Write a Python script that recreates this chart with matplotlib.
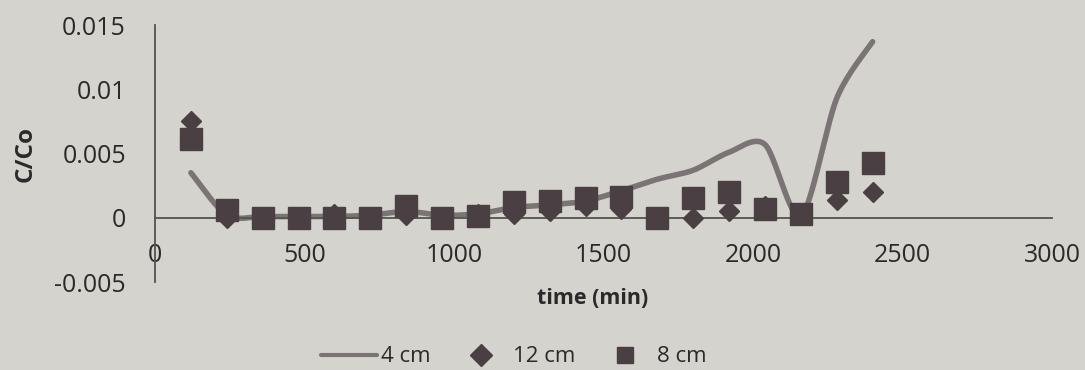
import numpy as np
import matplotlib
matplotlib.use("Agg")
import matplotlib.pyplot as plt

# sampling times (min)
times = [120, 240, 360, 480, 600, 720, 840, 960, 1080, 1200,
         1320, 1440, 1560, 1680, 1800, 1920, 2040, 2160, 2280, 2400]

# C/Co
c_4cm = [0.0035, 0.0002, 0.0001, 0.0001, 0.0001, 0.0002, 0.0005, 0.0002, 0.0003, 0.0008,
         0.0010, 0.0013, 0.0021, 0.0030, 0.0037, 0.0051, 0.0057, 0.0001, 0.0093, 0.0137]
c_12cm = [0.0075, 0.0000, 0.0000, 0.0000, 0.0003, 0.0000, 0.0002, 0.0000, 0.0003, 0.0003,
          0.0005, 0.0009, 0.0007, 0.0000, 0.0000, 0.0005, 0.0009, 0.0002, 0.0014, 0.0020]
c_8cm = [0.0061, 0.0006, 0.0000, 0.0000, 0.0000, 0.0000, 0.0009, 0.0000, 0.0001, 0.0012,
         0.0013, 0.0015, 0.0016, 0.0000, 0.0015, 0.0020, 0.0007, 0.0003, 0.0028, 0.0043]

x_ticks = [0, 500, 1000, 1500, 2000, 2500, 3000]
y_ticks = [-0.005, 0, 0.005, 0.01, 0.015]
y_tick_labels = ["-0.005", "0", "0.005", "0.01", "0.015"]


def smooth(x, y, n=30, f=1 / 6):
    # excel-like smoothed line (bezier segments, catmull-rom style control points)
    x = np.asarray(x, float)
    y = np.asarray(y, float)
    px = np.concatenate([[x[0]], x, [x[-1]]])
    py = np.concatenate([[y[0]], y, [y[-1]]])
    xs, ys = [], []
    t = np.linspace(0, 1, n)
    for i in range(1, len(px) - 2):
        p0 = np.array([px[i], py[i]])
        p3 = np.array([px[i + 1], py[i + 1]])
        c1 = p0 + (p3 - np.array([px[i - 1], py[i - 1]])) * f
        c2 = p3 - (np.array([px[i + 2], py[i + 2]]) - p0) * f
        pts = ((1 - t) ** 3)[:, None] * p0 + (3 * (1 - t) ** 2 * t)[:, None] * c1 \
            + (3 * (1 - t) * t ** 2)[:, None] * c2 + (t ** 3)[:, None] * p3
        xs.extend(pts[:, 0])
        ys.extend(pts[:, 1])
    return xs, ys


bg = "#d5d3ce"
ink = "#2b2a2a"
mark = "#4a4043"

plt.rcParams["font.family"] = ["Open Sans", "DejaVu Sans"]

fig = plt.figure(figsize=(10.85, 3.70), dpi=100, facecolor=bg)
ax = fig.add_axes([0.1429, 0.2378, 0.8267, 0.6946], facecolor=bg)

sx, sy = smooth(times, c_4cm, f=1 / 7)
ax.plot(sx, sy, color="#7a7474", lw=4, solid_capstyle="round", label="4 cm", zorder=2)
ax.plot(times, c_12cm, ls="none", marker="D", ms=10, color=mark, label="12 cm", zorder=3)
ax.plot(times, c_8cm, ls="none", marker="s", ms=16, color=mark, label="8 cm", zorder=4)

ax.set_xlim(0, 3000)
ax.set_ylim(-0.005, 0.015)
ax.set_xticks(x_ticks)
ax.set_yticks(y_ticks)
ax.set_yticklabels(y_tick_labels)

for s in ["top", "right"]:
    ax.spines[s].set_visible(False)
ax.spines["bottom"].set_position(("data", 0))
for s in ["bottom", "left"]:
    ax.spines[s].set_color("#555353")
    ax.spines[s].set_linewidth(1.3)

ax.tick_params(axis="both", length=0, labelsize=18, labelcolor=ink)
ax.tick_params(axis="x", pad=18)
ax.tick_params(axis="y", pad=21)

ax.set_ylabel("C/Co", fontsize=17.5, fontweight="bold", color=ink, labelpad=12)
fig.text(593 / 1085, 1 - 298 / 370, "time (min)", fontsize=15.5, fontweight="bold",
         color=ink, ha="center", va="center")

leg = fig.legend(loc="center", bbox_to_anchor=(514 / 1085, 1 - 357 / 370), ncol=3,
                 frameon=False, fontsize=16, handlelength=2.5, handletextpad=0.2,
                 columnspacing=0.98, labelcolor=ink)
h = leg.legend_handles
h[0].set_linewidth(3)
h[1].set_markersize(11)
h[2].set_markersize(11)

fig.savefig("out.png", dpi=100, facecolor=bg)
